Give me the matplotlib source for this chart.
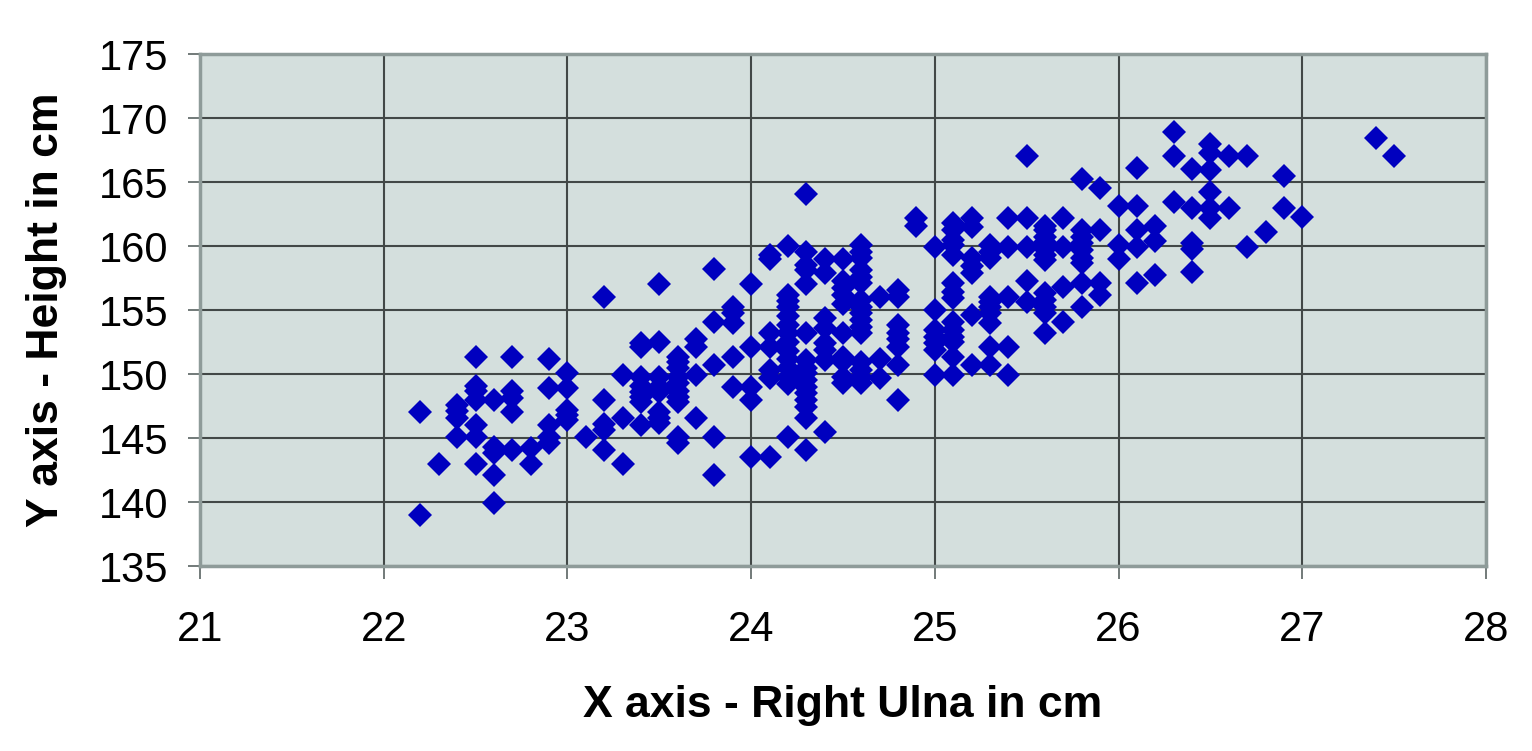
import matplotlib
matplotlib.use("Agg")
import matplotlib.pyplot as plt

plt.rcParams['font.family'] = ['Liberation Sans', 'DejaVu Sans']

# Right ulna length (cm) and height (cm)
ulna_cm = (
    [22.2]*2 + [22.3]*1 + [22.4]*4 + [22.5]*7 + [22.6]*5 + [22.7]*5 +
    [22.8]*2 + [22.9]*5 + [23.0]*5 + [23.1]*1 + [23.2]*5 + [23.3]*3 +
    [23.4]*8 + [23.5]*8 + [23.6]*10 + [23.7]*4 + [23.8]*5 + [23.9]*5 +
    [24.0]*5 + [24.1]*7 + [24.2]*14 + [24.3]*16 + [24.4]*8 + [24.5]*10 +
    [24.6]*16 + [24.7]*3 + [24.8]*8 + [24.9]*2 + [25.0]*7 + [25.1]*14 +
    [25.2]*7 + [25.3]*10 + [25.4]*5 + [25.5]*5 + [25.6]*12 + [25.7]*4 +
    [25.8]*9 + [25.9]*4 + [26.0]*3 + [26.1]*5 + [26.2]*3 + [26.3]*3 +
    [26.4]*5 + [26.5]*6 + [26.6]*2 + [26.7]*2 + [26.8]*1 + [26.9]*2 +
    [27.0]*1 + [27.4]*1 + [27.5]*1
)

height_cm = [
    147, 139,
    143,
    147.6, 147.1, 146.6, 145.1,
    151.3, 149.1, 148.7, 148, 146, 145.1, 143,
    148, 144.3, 143.8, 142.1, 139.9,
    151.3, 148.7, 148.1, 147.0, 144.1,
    144.2, 143,
    151.2, 148.9, 146.0, 145.1, 144.6,
    150.1, 148.9, 147.2, 146.8, 146.4,
    145.1,
    156, 148, 146.1, 145.6, 144.1,
    149.9, 146.6, 143,
    152.4, 152.1, 149.8, 149.1, 148.6, 148.2, 147.8, 146,
    157, 152.5, 149.8, 149, 148.6, 147, 146.6, 146.2,
    151.3, 150.9, 150.5, 149.8, 149.3, 148.7, 148.2, 147.8, 145.1, 144.6,
    152.7, 152.1, 149.9, 146.6,
    158.2, 154.1, 150.7, 145.1, 142.1,
    155.2, 154.8, 154.0, 151.3, 149.0,
    157, 152.1, 149, 148, 143.5,
    159.3, 159.0, 153.2, 152.1, 150.3, 149.7, 143.5,
    160, 156.2, 155.7, 155.2, 154.5, 153.8, 153.2, 152.5, 151.8, 151.2, 150.5, 149.8, 149.2, 145.1,
    164.1, 159.5, 158.5, 158.1, 157, 153.2, 151.1, 150.5, 150.1, 149.5, 149, 148.5, 148, 147.4, 146.6, 144.1,
    159, 157.9, 154.4, 153.6, 152.4, 151.9, 151.1, 145.5,
    159, 157.3, 156.7, 156.2, 155.5, 153.2, 151.3, 150.9, 149.8, 149.3,
    160.1, 159.5, 159.1, 158.1, 157.6, 157.1, 155.8, 155.2, 154.8, 154.2, 153.7, 153.2, 150.9, 150.3, 149.8, 149.3,
    156, 151.2, 149.7,
    156.6, 156, 153.8, 153.2, 152.7, 152.1, 150.7, 148,
    162.2, 161.6,
    159.9, 155, 153.4, 152.9, 152.4, 151.9, 149.9,
    161.8, 161.25, 160.5, 160.1, 159.3, 157.1, 156.4, 155.9, 154.1, 153.4, 152.9, 152.5, 151.3, 149.9,
    162.2, 161.5, 159.1, 158.4, 157.9, 154.6, 150.7,
    160.1, 159.5, 159.1, 156, 155.6, 155.2, 154.8, 154, 152.1, 150.7,
    162.2, 159.9, 156, 152.1, 149.9,
    167, 162.2, 159.9, 157.3, 155.6,
    161.6, 161.25, 160.7, 160.3, 159.8, 159.3, 158.9, 156.3, 155.8, 155.2, 154.8, 153.2,
    162.2, 159.9, 156.8, 154.1,
    165.2, 161.25, 160.7, 160.2, 159.7, 159.1, 158.7, 157.1, 155.2,
    164.5, 161.25, 157.1, 156.2,
    163.1, 160.1, 159.0,
    166.1, 163.1, 161.25, 159.9, 157.1,
    161.6, 160.4, 157.7,
    168.9, 167, 163.4,
    166, 163, 160.2, 159.8, 158,
    168, 167.3, 165.9, 164.2, 163, 162.2,
    167, 163,
    167, 159.9,
    161.1,
    165.5, 163,
    162.3,
    168.4,
    167,
]

x_ticks = [21, 22, 23, 24, 25, 26, 27, 28]
y_ticks = [135, 140, 145, 150, 155, 160, 165, 170, 175]
x_label = "X axis - Right Ulna in cm"
y_label = "Y axis - Height in cm"

W, H = 1532, 751
fig = plt.figure(figsize=(W / 100, H / 100), dpi=100)
fig.patch.set_facecolor('white')
L, R, T, B = 200, 1486, 54, 566
ax = fig.add_axes([L / W, (H - B) / H, (R - L) / W, (B - T) / H])
ax.set_facecolor('#D4DFDD')

ax.set_xlim(21, 28)
ax.set_ylim(135, 175)
ax.set_xticks(x_ticks)
ax.set_yticks(y_ticks)
ax.grid(True, color='#424847', linewidth=1.5)
ax.set_axisbelow(True)

for s in ax.spines.values():
    s.set_color('#8E9B99')
    s.set_linewidth(2.5)

ax.tick_params(axis='both', direction='out', length=9, width=1.2, color='#5A6362',
               labelsize=30, labelcolor='black')
ax.tick_params(axis='y', pad=14)
ax.tick_params(axis='x', pad=23)

ax.plot(ulna_cm, height_cm, linestyle='none', marker='D', markersize=12.2,
        markerfacecolor='#0000BF', markeredgecolor='none', markeredgewidth=0,
        zorder=3, clip_on=False)

ax.set_xlabel(x_label, fontsize=32, fontweight='bold', va='center')
ax.xaxis.set_label_coords(0.5, -(705 - B) / (B - T))
ax.set_ylabel(y_label, fontsize=32, fontweight='bold', va='center')
ax.yaxis.set_label_coords(-(L - 46) / (R - L), 0.5)

fig.savefig('out.png', dpi=100)
